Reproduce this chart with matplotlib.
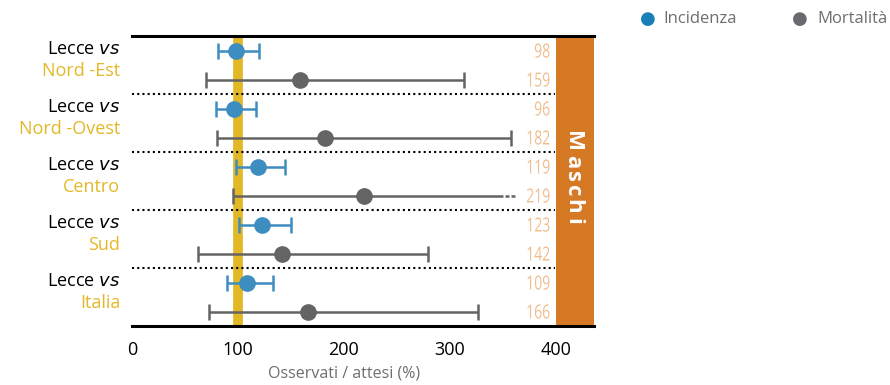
import matplotlib
matplotlib.use("Agg")
import matplotlib.pyplot as plt
from matplotlib.textpath import TextPath
from matplotlib.patches import PathPatch
from matplotlib.font_manager import FontProperties
import matplotlib.transforms as mtransforms

plt.rcParams["font.family"] = ["Open Sans", "DejaVu Sans"]

# data
regions = ["Nord -Est", "Nord -Ovest", "Centro", "Sud", "Italia"]
inc_val = [98, 96, 119, 123, 109]
inc_lo = [81, 79, 98, 101, 90]
inc_hi = [120, 117, 144, 150, 133]
mor_val = [159, 182, 219, 142, 166]
mor_lo = [70, 80, 95, 62, 73]
mor_hi = [313, 358, 350, 279, 327]
mor_open = [False, False, True, False, False]   # upper CI runs off (dashed)
xticks = [0, 100, 200, 300, 400]
band_label = "Maschi"

BLUE = "#3d8dc0"
GREY = "#646464"
GOLD = "#e3b826"
ORANGE = "#d57925"
NUMC = "#efbd8e"

fig = plt.figure(figsize=(8.9, 3.85), dpi=100)
ax = fig.add_axes([0.1483, 0.1532, 0.5191, 0.7532])
ax.set_xlim(0, 436)
ax.set_ylim(5, 0)

NUM_FP = FontProperties(family="Open Sans", size=14)


def narrow_number(x, y, s, squeeze=0.72):
    """Right-aligned, horizontally squeezed number (stand-in for a condensed
    face), anchored at data (x, y) and vertically centred on the digits."""
    tp = TextPath((0, 0), s, prop=NUM_FP)
    ext = tp.get_extents()
    tr = (mtransforms.Affine2D()
          .translate(-ext.x1, -(ext.y0 + ext.y1) / 2)
          .scale(squeeze / 72, 1 / 72)
          + fig.dpi_scale_trans
          + mtransforms.ScaledTranslation(x, y, ax.transData))
    ax.add_patch(PathPatch(tp, transform=tr, color=NUMC, lw=0, zorder=5,
                           clip_on=False))


# reference line at 100
ax.axvline(100, color=GOLD, lw=7, zorder=1)

# orange side band, letters spaced out down the band
ax.axvspan(400, 436, color=ORANGE, zorder=0, lw=0)
letter_y = [1.82, 2.17, 2.42, 2.67, 2.93, 3.19]
for ch, ly in zip(band_label, letter_y):
    ax.text(416, ly, ch, rotation=-90, ha="center", va="center",
            color="white", fontsize=16, fontweight="bold", zorder=5)

eb = dict(fmt="o", ms=11, elinewidth=1.8, capsize=6, capthick=1.8)
for i in range(len(regions)):
    yi = i + 0.25
    ym = i + 0.75
    ax.errorbar(inc_val[i], yi,
                xerr=[[inc_val[i] - inc_lo[i]], [inc_hi[i] - inc_val[i]]],
                color=BLUE, zorder=4, **eb)
    if mor_open[i]:
        ax.errorbar(mor_val[i], ym, xerr=[[mor_val[i] - mor_lo[i]], [0]],
                    color=GREY, zorder=3, **eb)
        ax.plot([mor_val[i], mor_hi[i]], [ym, ym], color=GREY, lw=1.8,
                solid_capstyle="butt", zorder=3)
        ax.plot([mor_hi[i], mor_hi[i] + 11], [ym, ym], color=GREY, lw=1.8,
                ls=(1.6, (1.6, 0.8)), zorder=3)
    else:
        ax.errorbar(mor_val[i], ym,
                    xerr=[[mor_val[i] - mor_lo[i]], [mor_hi[i] - mor_val[i]]],
                    color=GREY, zorder=3, **eb)
    narrow_number(394, yi, f"{inc_val[i]}")
    narrow_number(394, ym, f"{mor_val[i]}")
    if i > 0:
        ax.plot([0, 399], [i, i], color="black", lw=1.5, ls=(0, (1, 1.5)),
                zorder=2)
    # row labels
    ax.text(-11, i + 0.23, "Lecce $\\mathit{vs}$", ha="right", va="center",
            fontsize=13, color="black", clip_on=False)
    ax.text(-11, i + 0.61, regions[i], ha="right", va="center", fontsize=13,
            color=GOLD, clip_on=False)

for s in ["left", "right"]:
    ax.spines[s].set_visible(False)
ax.spines["top"].set_linewidth(2.2)
ax.spines["bottom"].set_linewidth(2.2)
ax.set_yticks([])
ax.set_xticks(xticks)
ax.tick_params(axis="x", length=0, labelsize=13, pad=11)
ax.set_xlabel("Osservati / attesi (%)", fontsize=11.5, color="#6e6e6e")
ax.xaxis.set_label_coords(200 / 436, -0.135)

# legend
fig.text(0.728, 0.951, "\u25CF", color="#1a7fb8", fontsize=13, ha="center",
         va="center")
fig.text(0.745, 0.951, "Incidenza", color="#6e6e6e", fontsize=12,
         va="center")
fig.text(0.899, 0.951, "\u25CF", color="#6a6a6e", fontsize=13, ha="center",
         va="center")
fig.text(0.918, 0.951, "Mortalità", color="#6e6e6e", fontsize=12,
         va="center")

fig.savefig("out.png", dpi=100)
